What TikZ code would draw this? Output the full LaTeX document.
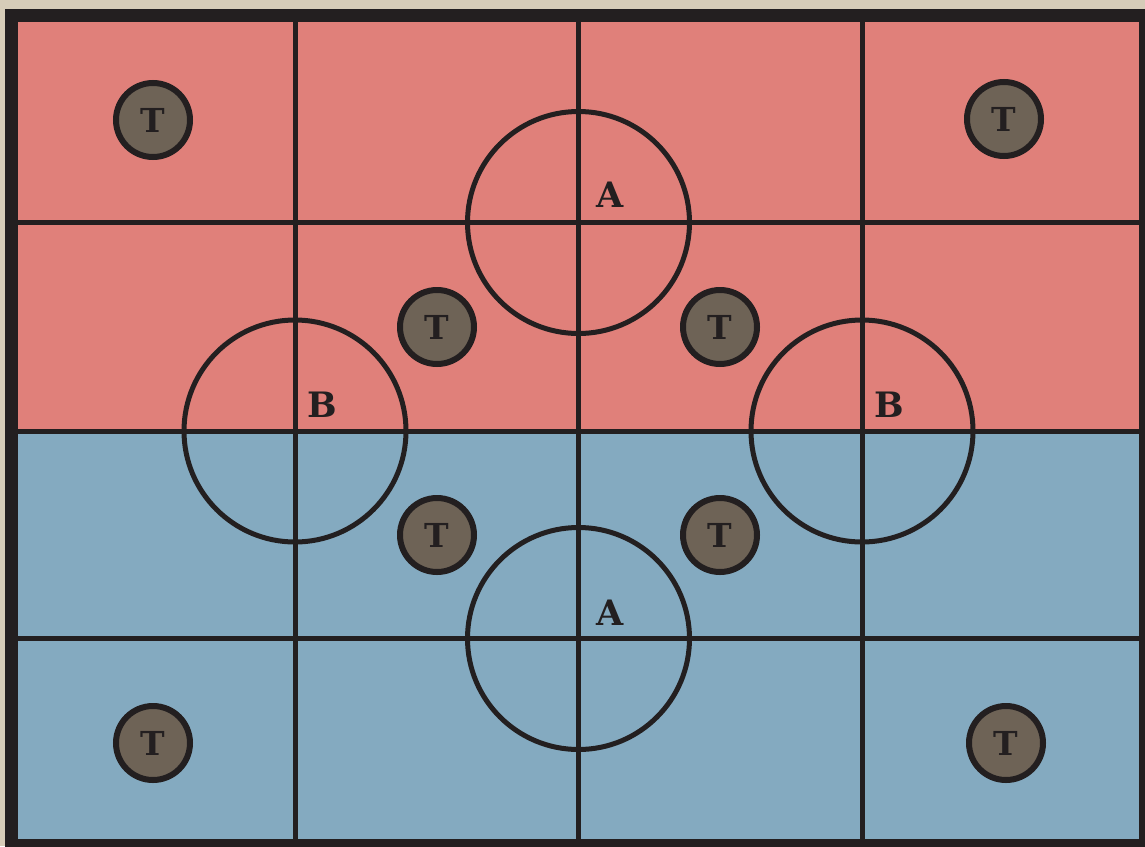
\documentclass[tikz,border=0pt]{standalone}
\usepackage{fontspec}
\setmainfont{DejaVu Serif}
\definecolor{bgpaper}{RGB}{214,204,184}
\definecolor{redzone}{RGB}{224,128,122}
\definecolor{bluezone}{RGB}{132,170,192}
\definecolor{inkdark}{RGB}{35,31,32}
\definecolor{tokenfill}{RGB}{110,99,86}
\tikzset{
  gridline/.style={inkdark, line width=5pt},
  zonecircle/.style={circle, draw=inkdark, line width=5pt, minimum size=222pt, inner sep=0pt},
  token/.style={circle, draw=inkdark, fill=tokenfill, line width=6pt, minimum size=74pt, inner sep=0pt, text=inkdark, font=\fontsize{33}{33}\selectfont\bfseries},
  zonelabel/.style={text=inkdark, font=\fontsize{35}{35}\selectfont\bfseries, inner sep=0pt}
}
\begin{document}
\begin{tikzpicture}[x=1pt,y=-1pt]
\useasboundingbox (0,0) rectangle (1145,846);
\fill[bgpaper] (0,0) rectangle (1145,846);
\begin{scope}
\clip (0,0) rectangle (1145,846);
\fill[redzone] (11.5,15.5) rectangle (1145.5,431);
\fill[bluezone] (11.5,431) rectangle (1145.5,845.5);
% grid
\foreach \gx in {295,578.5,862} \draw[gridline] (\gx,15.5) -- (\gx,845.5);
\foreach \gy in {222.5,431,638.5} \draw[gridline] (11.5,\gy) -- (1145.5,\gy);
% zone circles
\node[zonecircle] (atop) at (578.5,222.5) {};
\node[zonecircle] (bleft) at (295,431) {};
\node[zonecircle] (bright) at (862,431) {};
\node[zonecircle] (abot) at (578.5,638.5) {};
% frame
\draw[inkdark, line width=13pt] (11.5,15.5) rectangle (1145.5,845.5);
% labels
\node[zonelabel] (la1) at (610,195) {A};
\node[zonelabel] (lb1) at (322,405) {B};
\node[zonelabel] (lb2) at (889,405) {B};
\node[zonelabel] (la2) at (610,613) {A};
% tokens
\node[token] (t1) at (153,120) {T};
\node[token] (t2) at (1004,119) {T};
\node[token] (t3) at (437,327) {T};
\node[token] (t4) at (720,327) {T};
\node[token] (t5) at (437,535) {T};
\node[token] (t6) at (720,535) {T};
\node[token] (t7) at (153,743) {T};
\node[token] (t8) at (1006,743) {T};
\end{scope}
\end{tikzpicture}
\end{document}
